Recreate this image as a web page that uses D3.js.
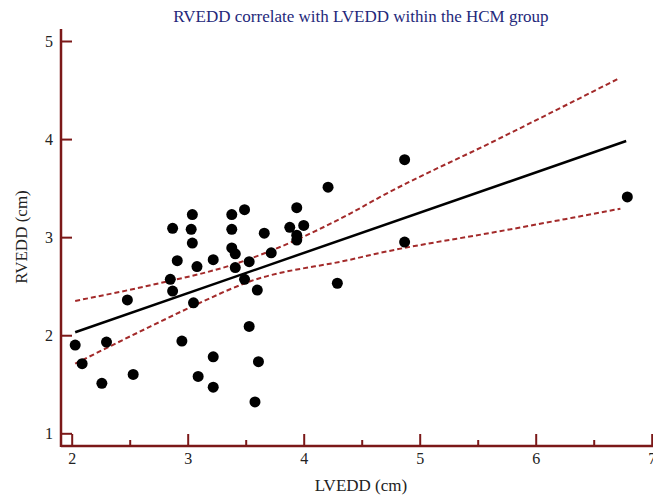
<!DOCTYPE html>
<html>
<head>
<meta charset="utf-8">
<script src="https://cdn.jsdelivr.net/npm/d3@7"></script>
<style>
  body { margin: 0; background: #fff; }
  text { font-family: "Liberation Serif", "Times New Roman", serif; }
</style>
</head>
<body>
<div id="plot"></div>
<script>
// LVEDD (x) and RVEDD (y) in cm
const lvedd = [2.48, 2.03, 2.30, 2.09, 2.26, 2.53, 4.87, 4.87, 6.79,
  4.21, 3.94, 3.49, 3.04, 3.38, 2.87, 3.03, 3.38, 3.88, 4.00, 3.66, 3.94, 3.94,
  3.04, 3.38, 3.41, 3.72, 2.91, 3.22, 3.53, 3.08, 3.41, 2.85, 2.87, 3.49, 3.60,
  4.29, 3.05, 3.53, 2.95, 3.22, 3.61, 3.09, 3.22, 3.58];
const rvedd = [2.36, 1.90, 1.93, 1.71, 1.51, 1.60, 3.79, 2.95, 3.41,
  3.51, 3.30, 3.28, 3.23, 3.23, 3.09, 3.08, 3.08, 3.10, 3.12, 3.04, 3.02, 2.97,
  2.94, 2.89, 2.83, 2.84, 2.76, 2.77, 2.75, 2.70, 2.69, 2.57, 2.45, 2.57, 2.46,
  2.53, 2.33, 2.09, 1.94, 1.78, 1.73, 1.58, 1.47, 1.32];

// regression line ends
const fitX = [2.03, 6.78];
const fitY = [2.03, 3.98];

// 95% confidence band
const upperX = [2.03, 2.68, 3.39, 4.40, 4.66, 5.66, 6.72];
const upperY = [2.35, 2.51, 2.72, 3.24, 3.41, 3.99, 4.62];
const lowerX = [2.03, 2.68, 3.05, 3.54, 4.40, 4.66, 5.69, 6.73];
const lowerY = [1.71, 2.09, 2.30, 2.55, 2.77, 2.84, 3.06, 3.29];

const xTicks = [2, 3, 4, 5, 6, 7];
const xMinor = [2.5, 3.5, 4.5, 5.5, 6.5];
const yTicks = [1, 2, 3, 4, 5];

const width = 653, height = 495;
const axisX = 61, axisY = 446;
const axisColor = "#7b1818";

const svg = d3.select("#plot")
  .append("svg")
  .attr("width", width)
  .attr("height", height);

const x = d3.scaleLinear().domain([2, 7]).range([71.7, 651.7]);
const y = d3.scaleLinear().domain([1, 5]).range([433.3, 41]);

// Title
svg.append("text")
  .attr("x", 361)
  .attr("y", 22)
  .attr("text-anchor", "middle")
  .style("font-size", "17px")
  .style("fill", "#24287a")
  .text("RVEDD correlate with LVEDD within the HCM group");

// X axis
const gx = svg.append("g")
  .attr("transform", `translate(0, ${axisY})`)
  .call(d3.axisBottom(x).tickValues(xTicks).tickSize(-12).tickPadding(7).tickFormat(d3.format("d")));
gx.select(".domain").remove();

svg.append("g")
  .attr("transform", `translate(0, ${axisY})`)
  .call(d3.axisBottom(x).tickValues(xMinor).tickSize(-6).tickFormat(""))
  .select(".domain").remove();

// Y axis
const gy = svg.append("g")
  .attr("transform", `translate(${axisX}, 0)`)
  .call(d3.axisLeft(y).tickValues(yTicks).tickSize(-11).tickPadding(8).tickFormat(d3.format("d")));
gy.select(".domain").remove();

svg.selectAll(".tick line")
  .attr("stroke", axisColor)
  .attr("stroke-width", 2);
svg.selectAll(".tick text")
  .style("font-family", "Liberation Serif, serif")
  .style("font-size", "16px")
  .attr("fill", "#222");

// axis lines
svg.append("line")
  .attr("x1", axisX).attr("x2", width)
  .attr("y1", axisY).attr("y2", axisY)
  .attr("stroke", axisColor).attr("stroke-width", 2.5);
svg.append("line")
  .attr("x1", axisX).attr("x2", axisX)
  .attr("y1", 29).attr("y2", axisY + 1)
  .attr("stroke", axisColor).attr("stroke-width", 2.5);

// axis labels
svg.append("text")
  .attr("x", 361)
  .attr("y", 491)
  .attr("text-anchor", "middle")
  .style("font-size", "17px")
  .style("fill", "#222")
  .text("LVEDD (cm)");

svg.append("text")
  .attr("transform", "rotate(-90)")
  .attr("x", -237)
  .attr("y", 27)
  .attr("text-anchor", "middle")
  .style("font-size", "17px")
  .style("fill", "#222")
  .text("RVEDD (cm)");

// confidence band
const band = d3.line()
  .x(d => x(d[0]))
  .y(d => y(d[1]))
  .curve(d3.curveMonotoneX);

[[upperX, upperY], [lowerX, lowerY]].forEach(([xs, ys]) => {
  svg.append("path")
    .datum(xs.map((v, i) => [v, ys[i]]))
    .attr("d", band)
    .attr("fill", "none")
    .attr("stroke", "#a32a2a")
    .attr("stroke-width", 2)
    .attr("stroke-dasharray", "5,3");
});

// regression line
svg.append("line")
  .attr("x1", x(fitX[0])).attr("y1", y(fitY[0]))
  .attr("x2", x(fitX[1])).attr("y2", y(fitY[1]))
  .attr("stroke", "#000")
  .attr("stroke-width", 2.5);

// points
svg.selectAll("circle.pt")
  .data(lvedd.map((v, i) => [v, rvedd[i]]))
  .enter()
  .append("circle")
  .attr("class", "pt")
  .attr("cx", d => x(d[0]))
  .attr("cy", d => y(d[1]))
  .attr("r", 5.5)
  .attr("fill", "#000");
</script>
</body>
</html>
